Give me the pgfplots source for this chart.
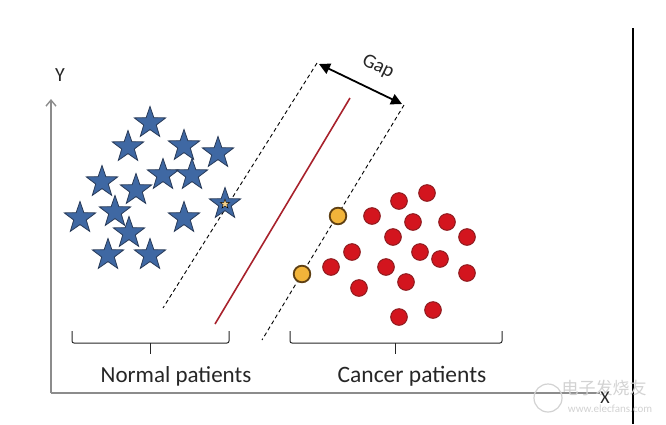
\documentclass[border=0pt]{standalone}
\usepackage{pgfplots}
\pgfplotsset{compat=1.18}
\usepackage{fontspec}
\setmainfont{Carlito}
\newfontfamily\cjk{Noto Sans CJK SC}
\usetikzlibrary{arrows.meta}

\definecolor{starfill}{HTML}{3F68A3}
\definecolor{staredge}{HTML}{283A58}
\definecolor{dotfill}{HTML}{D3151E}
\definecolor{dotedge}{HTML}{8E1B1E}
\definecolor{svfill}{HTML}{F2B43A}
\definecolor{svedge}{HTML}{5E3F12}
\definecolor{sepline}{HTML}{A8222C}
\definecolor{axgray}{HTML}{8C8C8C}
\definecolor{txt}{HTML}{262626}
\definecolor{wm}{HTML}{D2D2D2}

% filled five-pointed star
\pgfdeclareplotmark{fstar}{%
  \pgfpathmoveto{\pgfpointpolar{90}{\pgfplotmarksize}}%
  \pgfpathlineto{\pgfpointpolar{126}{0.4\pgfplotmarksize}}%
  \pgfpathlineto{\pgfpointpolar{162}{\pgfplotmarksize}}%
  \pgfpathlineto{\pgfpointpolar{198}{0.4\pgfplotmarksize}}%
  \pgfpathlineto{\pgfpointpolar{234}{\pgfplotmarksize}}%
  \pgfpathlineto{\pgfpointpolar{270}{0.4\pgfplotmarksize}}%
  \pgfpathlineto{\pgfpointpolar{306}{\pgfplotmarksize}}%
  \pgfpathlineto{\pgfpointpolar{342}{0.4\pgfplotmarksize}}%
  \pgfpathlineto{\pgfpointpolar{18}{\pgfplotmarksize}}%
  \pgfpathlineto{\pgfpointpolar{54}{0.4\pgfplotmarksize}}%
  \pgfpathclose
  \pgfusepathqfillstroke}

\begin{document}
\begin{tikzpicture}
\begin{axis}[
    scale only axis,
    width=666pt, height=424pt,
    xmin=0, xmax=666, ymin=0, ymax=424,
    y dir=reverse,
    hide axis,
    clip=false,
  ]
  % axes of the sketch
  \addplot[axgray, line width=1.4pt, -{Straight Barb[length=6pt,width=10pt]}]
    coordinates {(51,393) (51,99)};
  \addplot[axgray, line width=1.4pt] coordinates {(51,393) (600,393)};
  \addplot[black, line width=1.6pt] coordinates {(633,28) (633,424)};

  % margins and separating line
  \addplot[black, line width=0.9pt, dash pattern=on 4pt off 3pt]
    coordinates {(317,63) (163,308)};
  \addplot[black, line width=0.9pt, dash pattern=on 4pt off 3pt]
    coordinates {(404,105) (262,340)};
  \addplot[sepline, line width=1.6pt] coordinates {(215,324) (350,98)};

  % gap arrow
  \addplot[black, line width=1.8pt,
    arrows={Triangle[length=11pt,width=11pt]-Triangle[length=11pt,width=11pt]}]
    coordinates {(319,64) (402,104)};

  % normal patients
  \addplot[only marks, mark=fstar, mark size=16.5pt,
    mark options={fill=starfill, draw=staredge, line width=0.8pt}]
    coordinates {
      (150,123) (128,147) (184,146) (218,153) (102,182)
      (163,175) (192,175) (136,190) (115,212) (80,218)
      (184,218) (225,204) (129,233) (108,255) (150,255)
    };
  \addplot[only marks, mark=fstar, mark size=5pt,
    mark options={fill=svfill!60!white, draw=none}]
    coordinates {(225,204)};

  % cancer patients
  \addplot[only marks, mark=*, mark size=8.3pt,
    mark options={fill=dotfill, draw=dotedge, line width=1pt}]
    coordinates {
      (427,193) (399,201) (372,216) (413,222) (447,222)
      (393,237) (467,237) (352,252) (420,252) (440,259)
      (331,267) (386,267) (467,273) (406,282) (359,288)
      (399,317) (433,310)
    };
  \addplot[only marks, mark=*, mark size=8.3pt,
    mark options={fill=svfill, draw=svedge, line width=1.8pt}]
    coordinates {(338,216) (302,274)};

  % brackets
  \addplot[txt, line width=1pt, rounded corners=2pt]
    coordinates {(72,331) (72,343) (229,343) (229,331)};
  \addplot[txt, line width=1pt] coordinates {(150,343) (150,354)};
  \addplot[txt, line width=1pt, rounded corners=2pt]
    coordinates {(290,331) (290,343) (502,343) (502,331)};
  \addplot[txt, line width=1pt] coordinates {(395,343) (395,354)};

  % texts
  \node[text=txt, font=\fontsize{23}{26}\selectfont] at (axis cs:176,376) {Normal patients};
  \node[text=txt, font=\fontsize{23.5}{26}\selectfont] at (axis cs:412,376) {Cancer patients};
  \node[text=txt, font=\fontsize{20}{23}\selectfont, rotate=-26, inner sep=0pt]
    at (axis cs:378,67) {Gap};
  \node[text=txt, font=\fontsize{20}{23}\selectfont] at (axis cs:60,75) {Y};

  % watermark
  \draw[wm, line width=1.2pt] (axis cs:548,398) circle[radius=14pt];
  \node[text=wm, font=\cjk\fontsize{17}{19}\selectfont] at (axis cs:604,388) {电子发烧友};
  \node[text=wm, font=\fontsize{11}{12}\selectfont] at (axis cs:610,409) {www.elecfans.com};
  \node[text=txt, font=\fontsize{18}{20}\selectfont, inner sep=0pt] at (axis cs:605,398) {X};
\end{axis}
\pgfresetboundingbox
\path (0,0) rectangle (666pt,424pt);
\end{tikzpicture}
\end{document}
